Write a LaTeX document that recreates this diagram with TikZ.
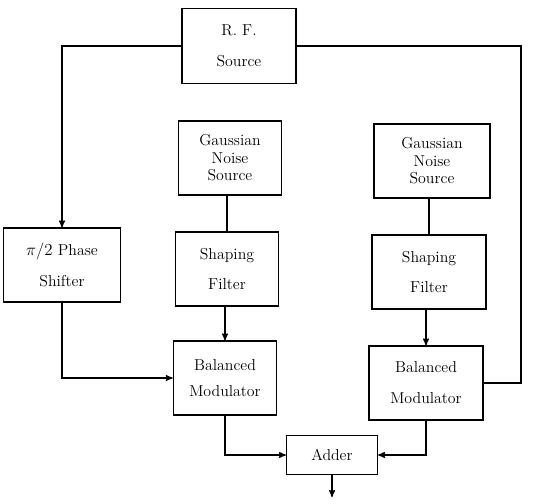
\documentclass[tikz,border=0pt]{standalone}
\usepackage{amsmath}
\usetikzlibrary{arrows,positioning}

\begin{document}
\begin{tikzpicture}[>=stealth',line width=1.1pt,font=\fontsize{13.5}{15}\selectfont]
        \tikzstyle{block}=[draw, rectangle, align=center, minimum width=3.1cm, minimum height=2.22cm, line width=1.1pt]
        \useasboundingbox (0,0) rectangle (16.29,-15.09);

        \node[block, minimum width=3.42cm, minimum height=2.25cm] (RF) at (7.17,-1.38)  {R.\ F.\\[0.4cm]Source};
        \node[block]                       (G1) at (6.90,-4.74)  {Gaussian\\Noise\\Source};
        \node[block, minimum width=3.48cm] (G2) at (12.96,-4.83) {Gaussian\\Noise\\Source};
        \node[block, minimum width=3.51cm] (P)  at (1.86,-7.95)  {$\pi/2$ Phase\\[0.4cm]Shifter};
        \node[block]                       (S1) at (6.81,-8.07)  {Shaping\\[0.4cm]Filter};
        \node[block, minimum width=3.42cm] (S2) at (12.87,-8.16) {Shaping\\[0.4cm]Filter};
        \node[block]                       (M1) at (6.75,-11.34) {Balanced\\[0.25cm]Modulator};
        \node[block, minimum width=3.42cm] (M2) at (12.78,-11.49) {Balanced\\[0.4cm]Modulator};
        \node[block, minimum width=2.73cm, minimum height=1.17cm] (Add) at (9.96,-13.65) {Adder};

        \coordinate (R)   at (15.63,0);
        \coordinate (Out) at (9.96,-14.91);

        \draw[->] (RF.west) -| (P.north);
        \draw (RF.east) -| (R |- M2.east) -- (M2.east);
        \draw (S1.north) -- (S1.north |- G1.south);
        \draw (S2.north) -- (S2.north |- G2.south);
        \draw[->] (M1.north |- S1.south) -- (M1.north);
        \draw[->] (M2.north |- S2.south) -- (M2.north);
        \draw[->] (P.south) |- (M1.west);
        \draw[->] (M1.south) |- (Add.west);
        \draw[->] (M2.south) |- (Add.east);
        \draw[->] (Add) -- (Out);
\end{tikzpicture}
\end{document}
